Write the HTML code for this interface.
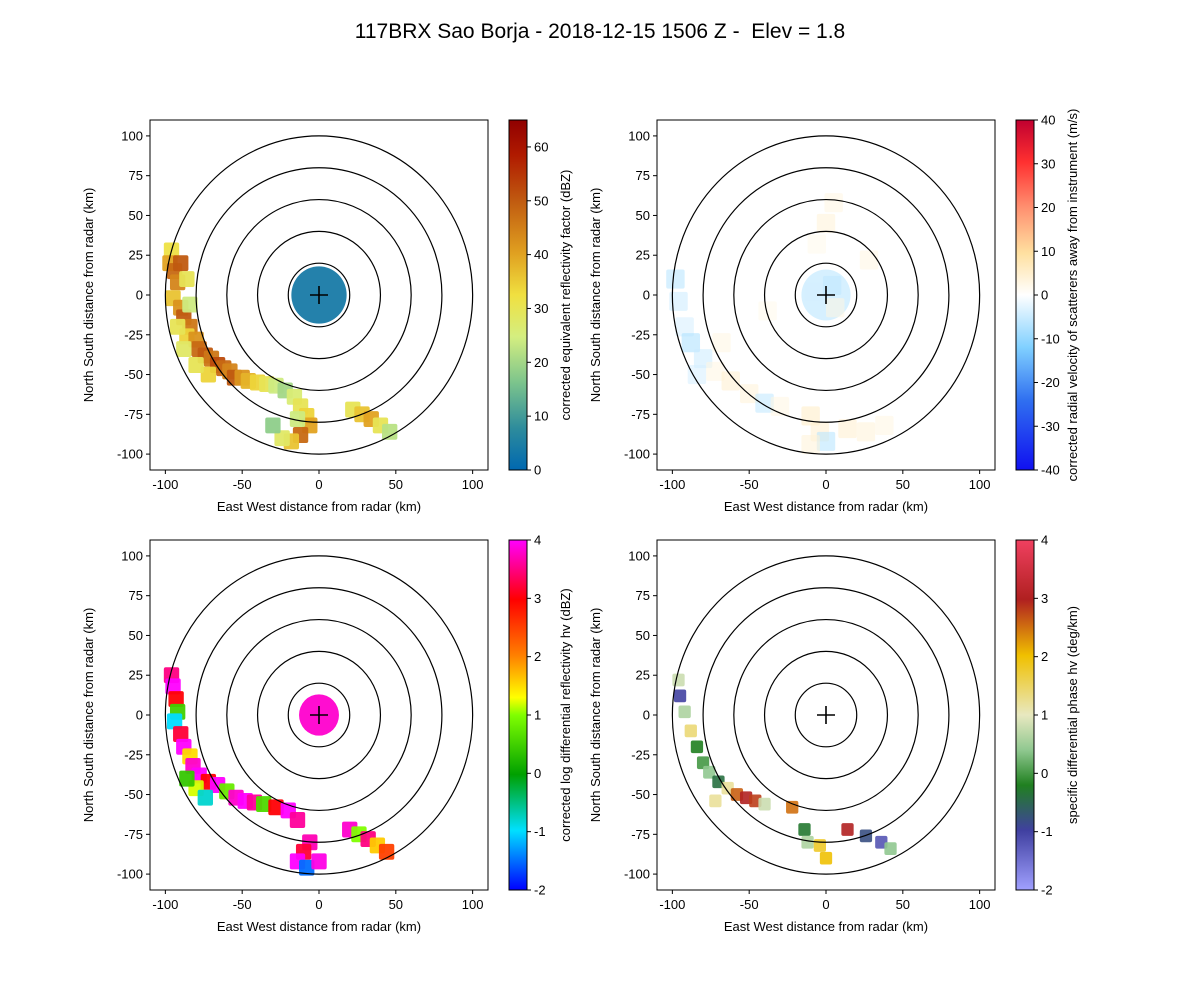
<!DOCTYPE html>
<html><head><meta charset="utf-8"><style>
body{margin:0;background:#fff;}
svg{display:block;font-family:"Liberation Sans",sans-serif;}
</style></head><body>
<svg id="fig" width="1200" height="1000" viewBox="0 0 1200 1000">
<defs>
<linearGradient id="gRef" x1="0" y1="1" x2="0" y2="0">
<stop offset="0" stop-color="#0068b0"/><stop offset="0.12" stop-color="#2e8c9c"/><stop offset="0.25" stop-color="#7cc48c"/><stop offset="0.38" stop-color="#d4ee80"/><stop offset="0.5" stop-color="#f0e040"/><stop offset="0.62" stop-color="#e0a020"/><stop offset="0.77" stop-color="#c05a10"/><stop offset="0.9" stop-color="#b01a00"/><stop offset="1" stop-color="#900000"/></linearGradient>
<linearGradient id="gVel" x1="0" y1="1" x2="0" y2="0">
<stop offset="0" stop-color="#1010f0"/><stop offset="0.2" stop-color="#3070f0"/><stop offset="0.35" stop-color="#80d0ff"/><stop offset="0.5" stop-color="#ffffff"/><stop offset="0.62" stop-color="#ffe0a0"/><stop offset="0.75" stop-color="#ff9070"/><stop offset="0.88" stop-color="#ff3030"/><stop offset="1" stop-color="#c00030"/></linearGradient>
<linearGradient id="gZdr" x1="0" y1="1" x2="0" y2="0">
<stop offset="0" stop-color="#0000ff"/><stop offset="0.17" stop-color="#00e0ff"/><stop offset="0.33" stop-color="#00a000"/><stop offset="0.5" stop-color="#80ff00"/><stop offset="0.55" stop-color="#ffff00"/><stop offset="0.67" stop-color="#ff8000"/><stop offset="0.83" stop-color="#ff0000"/><stop offset="1" stop-color="#ff00ff"/></linearGradient>
<linearGradient id="gKdp" x1="0" y1="1" x2="0" y2="0">
<stop offset="0" stop-color="#a0a0ff"/><stop offset="0.17" stop-color="#4040a0"/><stop offset="0.3" stop-color="#208020"/><stop offset="0.4" stop-color="#90c890"/><stop offset="0.5" stop-color="#e8e8c0"/><stop offset="0.67" stop-color="#f0c000"/><stop offset="0.83" stop-color="#b02020"/><stop offset="1" stop-color="#f04060"/></linearGradient>
</defs>
<text x="600" y="38" font-size="21" text-anchor="middle">117BRX Sao Borja - 2018-12-15 1506 Z - &#160;Elev = 1.8</text>
</svg>
<script>
// echo samples: [x km, y km, value]
const refCore=[0,0,18,4];   // x, y, radius km, value
const velCore=[0,0,16,-7];
const zdrCore=[0,0,13,3.8];
const refEchoes=[[-96,28,32],[-97,20,40],[-94,15,48],[-92,8,44],[-95,-2,36],[-90,-8,42],[-88,-14,50],[-84,-20,46],[-86,-26,34],[-80,-28,42],[-78,-34,48],[-74,-38,50],[-70,-40,46],[-66,-44,52],[-62,-46,48],[-58,-48,44],[-55,-52,50],[-50,-52,42],[-46,-54,38],[-40,-55,34],[-34,-56,30],[-28,-57,24],[-22,-60,20],[-16,-64,26],[-12,-70,30],[-8,-76,34],[-6,-82,40],[-12,-88,48],[-18,-92,36],[-24,-90,28],[-72,-50,34],[-80,-44,30],[-88,-34,28],[-92,-20,30],[-84,-6,24],[-90,20,50],[-86,10,30],[22,-72,30],[28,-75,36],[34,-78,40],[40,-82,30],[46,-86,22],[-30,-82,18],[-14,-78,24]];
const velEchoes=[[4,6,-6],[-8,2,-4],[6,-8,3],[0,45,4],[5,58,3],[-6,32,2],[28,22,3],[-38,-10,2],[-98,10,-7],[-96,-4,-5],[-92,-20,-4],[-88,-30,-8],[-80,-40,-5],[-72,-48,3],[-62,-54,5],[-50,-62,4],[-40,-68,-6],[-30,-70,3],[-10,-76,6],[-4,-86,5],[0,-92,-7],[-10,-94,4],[14,-84,5],[26,-86,4],[38,-82,3],[-68,-30,3],[-84,-50,-4]];
const zdrEchoes=[[-96,25,3.5],[-95,18,4],[-93,10,3],[-92,2,0.5],[-94,-4,-1],[-90,-12,3.2],[-88,-20,4],[-84,-26,1.5],[-82,-32,3.8],[-78,-38,4],[-72,-42,3],[-66,-44,4],[-60,-48,0.8],[-54,-52,3.8],[-48,-54,4],[-42,-55,3.6],[-36,-56,0.6],[-28,-58,3],[-20,-60,4],[-14,-66,3.6],[-80,-46,1.2],[-86,-40,0.4],[-74,-52,-0.8],[-6,-80,3.7],[-10,-86,3.2],[-14,-92,4],[-8,-96,-1.5],[0,-92,3.9],[20,-72,3.8],[26,-75,1],[32,-78,3.5],[38,-82,1.6],[44,-86,2.5]];
const kdpEchoes=[[-96,22,0.8],[-95,12,-1],[-92,2,0.6],[-88,-10,1.4],[-84,-20,-0.2],[-80,-30,0],[-76,-36,0.4],[-70,-42,-0.4],[-64,-46,1.2],[-58,-50,2.6],[-52,-52,3],[-46,-54,2.8],[-40,-56,0.8],[-22,-58,2.5],[-14,-72,-0.3],[-12,-80,0.6],[-4,-82,1.8],[0,-90,2],[14,-72,3],[26,-76,-0.8],[36,-80,-1.2],[42,-84,0.4],[-72,-54,1.2]];
const xTicks=[-100,-50,0,50,100];
const yTicks=[-100,-75,-50,-25,0,25,50,75,100];
const rings=[20,40,60,80,100];
const refTicks=[0,10,20,30,40,50,60];
const velTicks=[-40,-30,-20,-10,0,10,20,30,40];
const zdrTicks=[-2,-1,0,1,2,3,4];
const kdpTicks=[-2,-1,0,1,2,3,4];

const NS="http://www.w3.org/2000/svg";
const svg=document.getElementById('fig');
function mk(tag,attrs,parent){const e=document.createElementNS(NS,tag);for(const k in attrs)e.setAttribute(k,attrs[k]);(parent||svg).appendChild(e);return e;}
function lerpColor(stops,t){t=Math.max(0,Math.min(1,t));for(let i=1;i<stops.length;i++){if(t<=stops[i][0]){const a=stops[i-1],b=stops[i];const f=(t-a[0])/(b[0]-a[0]||1);const c=[0,1,2].map(j=>Math.round(a[1][j]+(b[1][j]-a[1][j])*f));return `rgb(${c})`;}}const l=stops[stops.length-1][1];return `rgb(${l})`;}
const cmRef=[[0,[0,104,176]],[0.12,[46,140,156]],[0.25,[124,196,140]],[0.38,[212,238,128]],[0.5,[240,224,64]],[0.62,[224,160,32]],[0.77,[192,90,16]],[0.9,[176,26,0]],[1,[144,0,0]]];
const cmVel=[[0,[16,16,240]],[0.2,[48,112,240]],[0.35,[128,208,255]],[0.5,[255,255,255]],[0.62,[255,224,160]],[0.75,[255,144,112]],[0.88,[255,48,48]],[1,[192,0,48]]];
const cmZdr=[[0,[0,0,255]],[0.17,[0,224,255]],[0.33,[0,160,0]],[0.5,[128,255,0]],[0.55,[255,255,0]],[0.67,[255,128,0]],[0.83,[255,0,0]],[1,[255,0,255]]];
const cmKdp=[[0,[160,160,255]],[0.17,[64,64,160]],[0.3,[32,128,32]],[0.4,[144,200,144]],[0.5,[232,232,192]],[0.67,[240,192,0]],[0.83,[176,32,32]],[1,[240,64,96]]];

function panel(name,L,T,echoes,core,cmap,vmin,vmax,grad,cTicks,cLabel,rad,op){
  const W=338,H=350;
  const sx=x=>L+(x+110)/220*W, sy=y=>T+(110-y)/220*H;
  const g=mk('g',{});  
  const clip=mk('clipPath',{id:'c'+name},g); mk('rect',{x:L,y:T,width:W,height:H},clip);
  const eg=mk('g',{'clip-path':`url(#c${name})`},g);
   
  if(core){const c=mk('ellipse',{cx:sx(core[0]),cy:sy(core[1]),rx:core[2]*W/220,ry:core[2]*H/220,fill:lerpColor(cmap,(core[3]-vmin)/(vmax-vmin)),opacity:op},eg);
     }
  echoes.forEach(([x,y,v])=>{
    const r=mk('rect',{x:sx(x)-rad*W/220,y:sy(y)-rad*H/220,width:2*rad*W/220,height:2*rad*H/220,rx:2,fill:lerpColor(cmap,(v-vmin)/(vmax-vmin)),opacity:op},eg);
     
  });
  rings.forEach(R=>{const e=mk('ellipse',{cx:sx(0),cy:sy(0),rx:R*W/220,ry:R*H/220,fill:'none',stroke:'#000','stroke-width':1.2},g);
     });
  const cr=mk('path',{d:`M${sx(0)-9} ${sy(0)}h18M${sx(0)} ${sy(0)-9}v18`,stroke:'#000','stroke-width':1.6},g);
   
  const fr=mk('rect',{x:L,y:T,width:W,height:H,fill:'none',stroke:'#000','stroke-width':1},g);
   
  xTicks.forEach(t=>{mk('line',{x1:sx(t),x2:sx(t),y1:T+H,y2:T+H+4,stroke:'#000'},g);
    const tx=mk('text',{x:sx(t),y:T+H+19,'font-size':13,'text-anchor':'middle'},g);tx.textContent=t;
     });
  yTicks.forEach(t=>{mk('line',{x1:L-4,x2:L,y1:sy(t),y2:sy(t),stroke:'#000'},g);
    const tx=mk('text',{x:L-7,y:sy(t)+4.5,'font-size':13,'text-anchor':'end'},g);tx.textContent=t;
     });
  const xl=mk('text',{x:L+W/2,y:T+H+41,'font-size':13,'text-anchor':'middle'},g);xl.textContent='East West distance from radar (km)';
   
  const yl=mk('text',{x:0,y:0,'font-size':13,'text-anchor':'middle',transform:`translate(${L-57},${T+H/2}) rotate(-90)`},g);yl.textContent='North South distance from radar (km)';
   
  const CL=L+359,CW=18;
  const cb=mk('rect',{x:CL,y:T,width:CW,height:H,fill:`url(#${grad})`,stroke:'#000','stroke-width':1},g);
   
  const cy=v=>T+H-(v-vmin)/(vmax-vmin)*H;
  cTicks.forEach(t=>{mk('line',{x1:CL+CW,x2:CL+CW+4,y1:cy(t),y2:cy(t),stroke:'#000'},g);
    const tx=mk('text',{x:CL+CW+7,y:cy(t)+4.5,'font-size':13},g);tx.textContent=t;
     });
  const cl=mk('text',{x:0,y:0,'font-size':13,'text-anchor':'middle',transform:`translate(${CL+CW+43},${T+H/2}) rotate(-90)`},g);cl.textContent=cLabel;
   
}
panel('reflectivity',150,120,refEchoes,refCore,cmRef,0,65,'gRef',refTicks,'corrected equivalent reflectivity factor (dBZ)',5,0.95);
panel('velocity',657,120,velEchoes,velCore,cmVel,-40,40,'gVel',velTicks,'corrected radial velocity of scatterers away from instrument (m/s)',6,0.55);
panel('zdr',150,540,zdrEchoes,zdrCore,cmZdr,-2,4,'gZdr',zdrTicks,'corrected log differential reflectivity hv (dBZ)',5,0.95);
panel('kdp',657,540,kdpEchoes,null,cmKdp,-2,4,'gKdp',kdpTicks,'specific differential phase hv (deg/km)',4,0.9);
</script>
</body></html>
